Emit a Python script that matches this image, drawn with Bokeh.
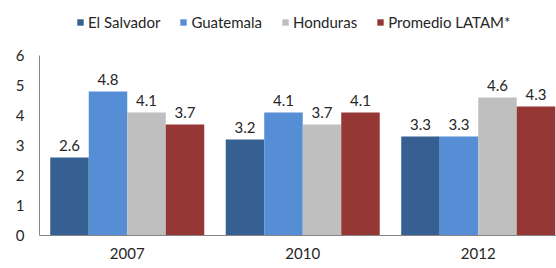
from bokeh.plotting import figure
from bokeh.models import ColumnDataSource, Legend, LegendItem, FixedTicker, Range1d
from bokeh.core.properties import value
from bokeh.embed import file_html
from bokeh.resources import INLINE

years = ["2007", "2010", "2012"]
series = ["El Salvador", "Guatemala", "Honduras", "Promedio LATAM*"]
el_salvador = [2.6, 3.2, 3.3]
guatemala = [4.8, 4.1, 3.3]
honduras = [4.1, 3.7, 4.6]
promedio = [3.7, 4.1, 4.3]
y_ticks = [0, 1, 2, 3, 4, 5, 6]

colors = ["#376092", "#558ED5", "#BFBFBF", "#953735"]
all_values = [el_salvador, guatemala, honduras, promedio]

FONT = "Lato"
TXT = "#262626"
AXC = "#868686"

bar_w = 0.2194
offsets = [-1.5 * bar_w, -0.5 * bar_w, 0.5 * bar_w, 1.5 * bar_w]
centers = [i + 0.5 for i in range(len(years))]

p = figure(width=556, height=268, x_range=Range1d(0, 2.946), y_range=Range1d(0, 7.833),
           output_backend="svg", toolbar_location=None,
           min_border_left=39, min_border_right=0, min_border_top=0, min_border_bottom=33)
p.outline_line_color = None
p.xgrid.visible = False
p.ygrid.visible = False
p.background_fill_color = "white"
p.border_fill_color = "white"

items = []
for name, vals, col, off in zip(series, all_values, colors, offsets):
    xs = [c + off for c in centers]
    src = ColumnDataSource(dict(x=xs, top=vals, lab=[f"{v:.1f}" for v in vals]))
    r = p.vbar(x="x", top="top", bottom=0, width=bar_w, fill_color=col, line_color=None, source=src)
    p.text(x="x", y="top", text="lab", source=src, text_align="center", text_baseline="alphabetic",
           y_offset=-12, text_font=value(FONT), text_font_size="15px", text_color=TXT)
    items.append(LegendItem(label=name, renderers=[r]))

legend = Legend(items=items, orientation="horizontal", location=(37, 204), glyph_width=8, glyph_height=8,
                label_standoff=4, spacing=19, padding=0, margin=0, border_line_color=None,
                background_fill_alpha=0, label_text_font=FONT, label_text_font_size="15px",
                label_text_color=TXT)
p.add_layout(legend, "center")

for ax in (p.xaxis[0], p.yaxis[0]):
    ax.axis_line_color = AXC
    ax.major_tick_line_color = None
    ax.minor_tick_line_color = None
    ax.major_tick_in = 0
    ax.major_tick_out = 0
    ax.minor_tick_out = 0
    ax.major_label_text_font = FONT
    ax.major_label_text_font_size = "15px"
    ax.major_label_text_color = TXT

p.yaxis.ticker = FixedTicker(ticks=y_ticks)
p.yaxis.bounds = (0, 6)
p.yaxis.major_label_standoff = 15
p.xaxis.ticker = FixedTicker(ticks=centers)
p.xaxis.major_label_overrides = {c: y for c, y in zip(centers, years)}
p.xaxis.major_label_standoff = 12

open("out.html", "w").write(file_html(p, INLINE))
